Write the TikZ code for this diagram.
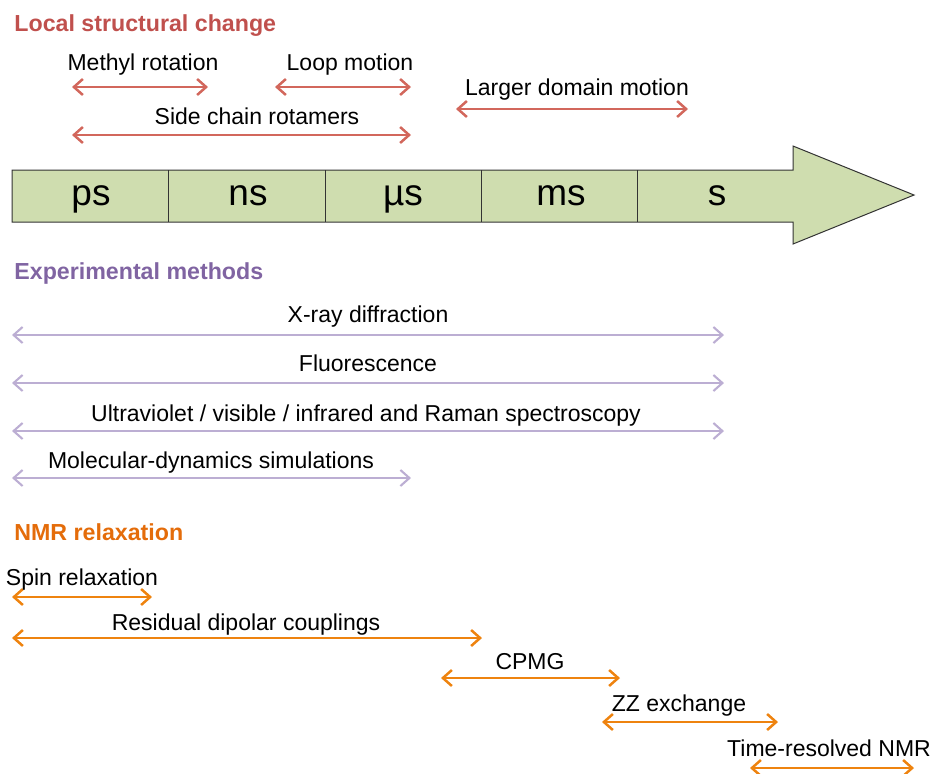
\documentclass[tikz,border=0pt]{standalone}
\usepackage{fontspec}
\setmainfont{Liberation Sans}
\usetikzlibrary{arrows.meta}
\usetikzlibrary{calc}
\usetikzlibrary{positioning}

\definecolor{headred}{HTML}{C0504D}
\definecolor{arrred}{HTML}{D2675C}
\definecolor{headpurple}{HTML}{8064A2}
\definecolor{arrpurple}{HTML}{BCAED3}
\definecolor{headorange}{HTML}{E46C0A}
\definecolor{arrorange}{HTML}{EE830F}
\definecolor{barfill}{HTML}{CFDDAF}

\tikzset{
  heading/.style={anchor=base west, inner sep=0pt, font=\fontsize{11.6}{14}\selectfont\bfseries},
  lbl/.style={anchor=base, inner sep=0pt, font=\fontsize{11.5}{14}\selectfont},
  unit/.style={anchor=base, inner sep=0pt, font=\fontsize{18.5}{20}\selectfont},
  spanline/.style={line width=1.25pt, {Straight Barb[length=4.5pt,width=8pt]}-{Straight Barb[length=4.5pt,width=8pt]}},
  redrange/.style={spanline, draw=arrred},
  purplerange/.style={spanline, draw=arrpurple, line width=1.05pt},
  orangerange/.style={spanline, draw=arrorange},
  timebar/.style={draw=black!80, line width=0.5pt, fill=barfill}
}

\begin{document}
\begin{tikzpicture}[x=0.5pt,y=-0.5pt]
  \useasboundingbox (0,0) rectangle (935,773);

  % time axis
  \draw[timebar] (12,170) -- (793,170) -- (793,146) -- (914,195)
    -- (793,244) -- (793,222) -- (12,222) -- cycle;
  \foreach \x in {168,325,481,637}
    \draw[black!80, line width=0.5pt] (\x,170) -- (\x,222);
  \foreach \x/\u [count=\i] in {91/ps,248/ns,403/µs,561/ms,717/s}
    \node[unit] (cell\i) at (\x,205) {\u};

  % local structural change
  \node[heading, text=headred] (local) at (14,31) {Local structural change};
  \coordinate (methylL) at (72,87);   \coordinate (methylR) at (208,87);
  \coordinate (loopL) at (275,87);    \coordinate (loopR) at (411,87);
  \coordinate (domainL) at (456,109); \coordinate (domainR) at (688,109);
  \coordinate (sideL) at (72,135);    \coordinate (sideR) at (411,135);
  \draw[redrange] (methylL) -- (methylR);
  \draw[redrange] (loopL) -- (loopR);
  \draw[redrange] (domainL) -- (domainR);
  \draw[redrange] (sideL) -- (sideR);
  \node[lbl] (methyl) at (143,70) {Methyl rotation};
  \node[lbl] (loop) at (350,70) {Loop motion};
  \node[lbl] (domain) at (577,95) {Larger domain motion};
  \node[lbl] (side) at (257,124) {Side chain rotamers};

  % experimental methods
  \node[heading, text=headpurple] (methods) at (14,279) {Experimental methods};
  \coordinate (xrayL) at (12,335);  \coordinate (xrayR) at (724,335);
  \coordinate (fluoL) at (12,383);  \coordinate (fluoR) at (724,383);
  \coordinate (uvL) at (12,431);    \coordinate (uvR) at (724,431);
  \coordinate (mdL) at (12,478);    \coordinate (mdR) at (411,478);
  \draw[purplerange] (xrayL) -- (xrayR);
  \draw[purplerange] (fluoL) -- (fluoR);
  \draw[purplerange] (uvL) -- (uvR);
  \draw[purplerange] (mdL) -- (mdR);
  \node[lbl] (xray) at (368,322) {X-ray diffraction};
  \node[lbl] (fluo) at (368,371) {Fluorescence};
  \node[lbl] (uv) at (366,421) {Ultraviolet / visible / infrared and Raman spectroscopy};
  \node[lbl] (md) at (211,468) {Molecular-dynamics simulations};

  % NMR relaxation
  \node[heading, text=headorange] (nmr) at (14,540) {NMR relaxation};
  \coordinate (spinL) at (12,597);  \coordinate (spinR) at (152,597);
  \coordinate (rdcL) at (12,638);   \coordinate (rdcR) at (482,638);
  \coordinate (cpmgL) at (441,678); \coordinate (cpmgR) at (620,678);
  \coordinate (zzL) at (602,722);   \coordinate (zzR) at (778,722);
  \coordinate (trL) at (750,768);   \coordinate (trR) at (914,768);
  \draw[orangerange] (spinL) -- (spinR);
  \draw[orangerange] (rdcL) -- (rdcR);
  \draw[orangerange] (cpmgL) -- (cpmgR);
  \draw[orangerange] (zzL) -- (zzR);
  \draw[orangerange] (trL) -- (trR);
  \node[lbl] (spin) at (82,585) {Spin relaxation};
  \node[lbl] (rdc) at (246,630) {Residual dipolar couplings};
  \node[lbl] (cpmg) at (530,669) {CPMG};
  \node[lbl] (zz) at (679,711) {ZZ exchange};
  \node[lbl] (tr) at (829,756) {Time-resolved NMR};
\end{tikzpicture}
\end{document}
